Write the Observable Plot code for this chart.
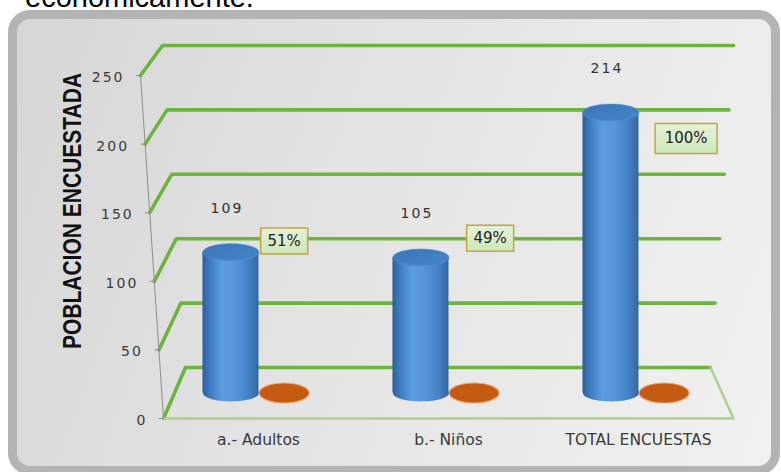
<!DOCTYPE html>
<html><head><meta charset="utf-8">
<script src="https://cdn.jsdelivr.net/npm/d3@7"></script>
<script src="https://cdn.jsdelivr.net/npm/@observablehq/plot@0.6"></script>
<style>
html,body{margin:0;padding:0;background:#fff;}
#wrap{position:relative;width:781px;height:472px;overflow:hidden;background:#fff;}
#top{position:absolute;left:25px;top:-17px;font:29px/29px "Liberation Sans",Arial,sans-serif;color:#000;white-space:nowrap;}
#frame{position:absolute;left:8px;top:10px;width:772px;height:465px;box-sizing:border-box;border:9px solid #b4b4b4;border-radius:22px;background:linear-gradient(110deg,#d6d6d6 0%,#e4e4e4 45%,#f1f1f1 100%);}
#ytitle{position:absolute;left:73px;top:211px;transform:translate(-50%,-50%) rotate(-90deg) scaleY(1.2);font:bold 21px "Liberation Sans",Arial,sans-serif;color:#111;white-space:nowrap;}
#chart{position:absolute;left:0;top:0;}
#chart .sp2 text, #chart text.sp2{letter-spacing:2px;}
</style></head>
<body>
<svg width="0" height="0" style="position:absolute">
<defs>
<linearGradient id="cylGrad" x1="0" y1="0" x2="1" y2="0">
<stop offset="0" stop-color="#2d5e9a"/>
<stop offset="0.12" stop-color="#3d7abd"/>
<stop offset="0.35" stop-color="#5a9de0"/>
<stop offset="0.55" stop-color="#5597d9"/>
<stop offset="0.8" stop-color="#4684c8"/>
<stop offset="1" stop-color="#3266a4"/>
</linearGradient>
<linearGradient id="capGrad" x1="0" y1="0" x2="1" y2="1">
<stop offset="0" stop-color="#3a74b6"/>
<stop offset="1" stop-color="#4686cb"/>
</linearGradient>
<linearGradient id="boxGrad" x1="0" y1="0" x2="0" y2="1">
<stop offset="0" stop-color="#e4f2d8"/>
<stop offset="1" stop-color="#cfe7b9"/>
</linearGradient>
</defs>
</svg>
<div id="wrap">
<div id="top">económicamente.</div>
<div id="frame"></div>
<div id="ytitle">POBLACION ENCUESTADA</div>
<div id="chart"></div>
</div>
<script>
// ---- data ----
const categories = ["a.- Adultos", "b.- Niños", "TOTAL ENCUESTAS"];
const encuestados = [109, 105, 214];
const porcentajes = [0.51, 0.49, 1.00];
const yTicks = [0, 50, 100, 150, 200, 250];

// ---- layout / projection (pseudo 3D) ----
const X0 = 163, X1 = 733, Y0 = 418, Y250 = 75;
const pxX = (X1 - X0) / 3;
// value v at depth d (0 front, 1 back wall) expressed in front-plane value units
const projV = (v, d) => v + d * (37.17 - 0.0612 * v);
// category-index position i at value v and depth d, in front-plane index units
const projI = (i, v, d) => {
  const L = -0.000484 * v + 0.1158 * d;
  const R = 3 + 0.000484 * v - 0.121 * d;
  return L + (R - L) * i / 3;
};
const MID = 0.5;
const cylOff = -0.145, orgOff = 0.135;
const cylR = 28;
const pctNudge = [[0, -7], [16, -15], [22, 30]];

function ellipse(ratio) {
  return {
    draw(ctx, size) {
      const rx = Math.sqrt(size / Math.PI), ry = rx * ratio, k = 0.5523;
      ctx.moveTo(rx, 0);
      ctx.bezierCurveTo(rx, ry * k, rx * k, ry, 0, ry);
      ctx.bezierCurveTo(-rx * k, ry, -rx, ry * k, -rx, 0);
      ctx.bezierCurveTo(-rx, -ry * k, -rx * k, -ry, 0, -ry);
      ctx.bezierCurveTo(rx * k, -ry, rx, -ry * k, rx, 0);
      ctx.closePath();
    }
  };
}
function box(w, h) {
  return { draw(ctx) { ctx.rect(-w / 2, -h / 2, w, h); } };
}

// gridlines: front tick -> back-left -> back-right
const gridPts = yTicks.flatMap(v => [
  {v, x: projI(0, v, 0), y: v},
  {v, x: projI(0, v, 1), y: projV(v, 1)},
  {v, x: projI(3, v, 1), y: projV(v, 1)}
]);
const floorPts = [
  {x: projI(3, 0, 1), y: projV(0, 1)},
  {x: projI(3, 0, 0), y: 0},
  {x: projI(0, 0, 0), y: 0}
];
const rows = categories.map((c, k) => ({
  c, k, v: encuestados[k], p: porcentajes[k],
  ci: k + 0.5 + cylOff, oi: k + 0.5 + orgOff, li: k + 0.5
}));
const fmtPct = d3.format(".0%");
const FONT = "DejaVu Sans";

const marks = [
  Plot.line(gridPts, {x: "x", y: "y", z: "v", stroke: "#6db33f", strokeWidth: 3.6, strokeLinejoin: "round", strokeLinecap: "round"}),
  Plot.line(floorPts, {x: "x", y: "y", stroke: "#a9d38c", strokeWidth: 2.5, strokeLinejoin: "round"}),
  Plot.link([0], {x1: () => projI(0, 0, 0), y1: () => 0, x2: () => projI(0, 250, 0), y2: () => 250, stroke: "#8f8f8f", strokeWidth: 1}),
  Plot.link(yTicks, {x1: v => projI(0, v, 0), y1: v => v, x2: v => projI(0, v, 0) - 0.025, y2: v => v, stroke: "#8f8f8f", strokeWidth: 1}),
  Plot.text(yTicks, {x: v => projI(0, v, 0), y: v => v, text: v => String(v), textAnchor: "end", dx: -16, dy: 2, fontSize: 14, fill: "#3a3a3a", fontFamily: FONT, className: "sp2"}),
  // orange series (percent) as flat discs
  Plot.dot(rows, {x: "oi", y: () => projV(0, MID), r: 25, symbol: ellipse(0.4), fill: "#c55a11", stroke: "#f2a673", strokeWidth: 1.2}),
  // cylinders
  Plot.dot(rows, {x: "ci", y: () => projV(0, MID), r: cylR, symbol: ellipse(0.3), fill: "url(#cylGrad)", stroke: "none"}),
  Plot.rect(rows, {x1: r => r.ci - cylR / pxX, x2: r => r.ci + cylR / pxX, y1: () => projV(0, MID), y2: r => projV(r.v, MID) - 3, fill: "url(#cylGrad)"}),
  Plot.dot(rows, {x: "ci", y: r => projV(r.v, MID) - 3, r: cylR, symbol: ellipse(0.3), fill: "url(#capGrad)", stroke: "#4d8ed2", strokeWidth: 0.6}),
  // value labels
  Plot.text(rows, {x: "ci", y: r => projV(r.v, MID), text: r => String(r.v), dx: -4, dy: -40, fontSize: 14, fill: "#333", fontFamily: FONT, className: "sp2"}),
  // x labels
  Plot.text(rows, {x: "li", y: () => 0, text: "c", dy: 22, fontSize: 15.5, fill: "#3a3a3a", fontFamily: FONT})
];
// percent label boxes
rows.forEach(r => {
  const t = fmtPct(r.p);
  const w = 2 + 15 * t.length, h = 26 + (t.length - 3) * 4;
  const [dx, dy] = pctNudge[r.k];
  const opts = {x: "oi", y: d => projV(d.v, MID), dx, dy};
  marks.push(Plot.dot([r], {...opts, r: 10, symbol: box(w, h), fill: "url(#boxGrad)", stroke: "#c9a43c", strokeWidth: 1.5}));
  marks.push(Plot.text([r], {...opts, text: () => t, fontSize: 15, fill: "#222", fontFamily: FONT}));
});

const chart = Plot.plot({
  width: 781,
  height: 472,
  margin: 0,
  style: {background: "transparent", overflow: "visible"},
  x: {type: "linear", domain: [0, 3], range: [X0, X1], axis: null},
  y: {type: "linear", domain: [0, 250], range: [Y0, Y250], axis: null},
  marks
});
document.getElementById("chart").appendChild(chart);
</script>
</body></html>
